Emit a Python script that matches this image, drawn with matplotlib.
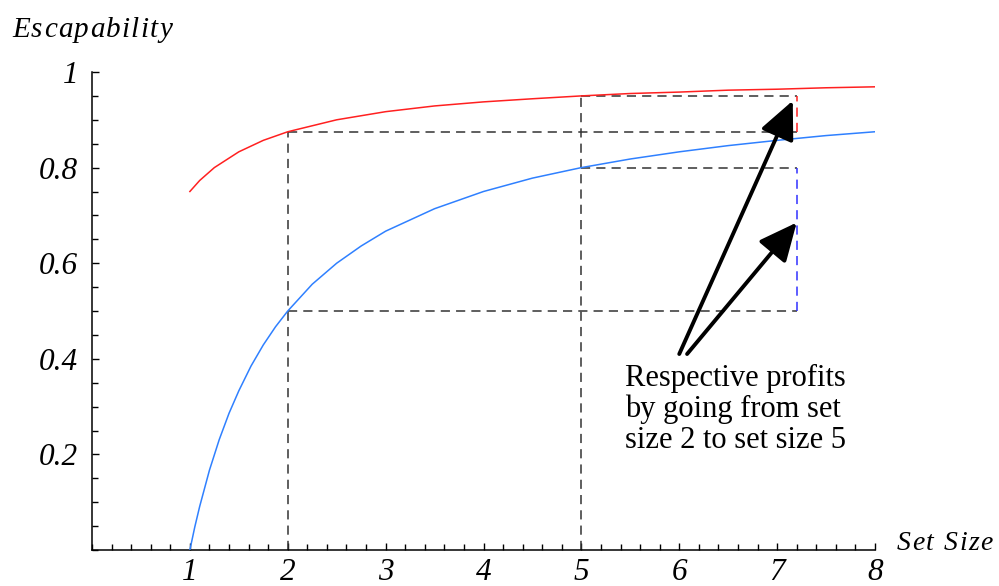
import matplotlib
matplotlib.use("Agg")
import matplotlib.pyplot as plt
from matplotlib.ticker import MultipleLocator, FixedLocator

# Data
red_x = [1, 1.1, 1.25, 1.5, 1.75, 2, 2.5, 3, 3.5, 4, 4.5, 5, 5.5, 6, 6.5, 7, 7.5, 8]
red_y = [0.75, 0.773, 0.80, 0.833, 0.857, 0.875, 0.90, 0.917, 0.929, 0.9375, 0.944,
         0.95, 0.955, 0.958, 0.962, 0.964, 0.967, 0.969]
blue_x = [1, 1.05, 1.1, 1.2, 1.3, 1.4, 1.5, 1.625, 1.75, 1.875, 2, 2.25, 2.5, 2.75, 3,
          3.5, 4, 4.5, 5, 5.5, 6, 6.5, 7, 7.5, 8]
blue_y = [0.0, 0.048, 0.091, 0.167, 0.231, 0.286, 0.333, 0.385, 0.429, 0.467, 0.5,
          0.556, 0.6, 0.636, 0.667, 0.714, 0.75, 0.778, 0.8, 0.818, 0.833, 0.846,
          0.857, 0.867, 0.875]

set_from, set_to = 2, 5
red_from, red_to = 0.875, 0.95
blue_from, blue_to = 0.5, 0.8
bracket_x = 7.2

x_ticks = [1, 2, 3, 4, 5, 6, 7, 8]
x_labels = ["1", "2", "3", "4", "5", "6", "7", "8"]
y_ticks = [0.2, 0.4, 0.6, 0.8, 1.0]
y_labels = ["0.2", "0.4", "0.6", "0.8", "1"]

y_title = "Escapability"
x_title = "Set Size"
note = "Respective profits\nby going from set\nsize 2 to set size 5"
arrow_tail = [(6.0, 0.41), (6.08, 0.41)]
arrow_heads = [(7.16, 0.94), (7.2, 0.685)]

W, H = 999, 586
fig = plt.figure(figsize=(W / 100, H / 100), dpi=100)
ax = fig.add_axes([92 / W, 1 - 550 / H, (875 - 92) / W, (550 - 72) / H])
ax.set_xlim(0, 8)
ax.set_ylim(0, 1)

serif = ["Liberation Serif", "DejaVu Serif"]

ax.plot(red_x, red_y, color="#ff2020", lw=1.1, zorder=3)
ax.plot(blue_x, blue_y, color="#2f80ff", lw=1.1, zorder=3)

dash = dict(color="#333333", lw=1.1, dashes=(6, 4), zorder=2)
ax.plot([set_from, set_from], [0, red_from], **dash)
ax.plot([set_to, set_to], [0, red_to], **dash)
ax.plot([set_from, bracket_x], [red_from, red_from], **dash)
ax.plot([set_to, bracket_x], [red_to, red_to], **dash)
ax.plot([set_from, bracket_x], [blue_from, blue_from], **dash)
ax.plot([set_to, bracket_x], [blue_to, blue_to], **dash)
ax.plot([bracket_x, bracket_x], [red_from, red_to], color="#ff2020", lw=1.1,
        dashes=(6, 4), zorder=2)
ax.plot([bracket_x, bracket_x], [blue_from, blue_to], color="#3030ff", lw=1.1,
        dashes=(6, 4), zorder=2)

for (tx, ty), (hx, hy) in zip(arrow_tail, arrow_heads):
    ax.annotate("", xy=(hx, hy), xytext=(tx, ty),
                arrowprops=dict(arrowstyle="-|>,head_length=1.3,head_width=0.6",
                                mutation_scale=18, lw=2.8, color="black",
                                shrinkA=0, shrinkB=0), zorder=4)

ax.text(5.45, 0.39, note, fontsize=22, family=serif, va="top", ha="left",
        linespacing=1.08, zorder=5)

for s in ["top", "right"]:
    ax.spines[s].set_visible(False)
ax.spines["left"].set_linewidth(1.1)
ax.spines["bottom"].set_linewidth(1.1)

ax.xaxis.set_major_locator(FixedLocator(x_ticks))
ax.set_xticklabels(x_labels)
ax.xaxis.set_minor_locator(MultipleLocator(0.2))
ax.yaxis.set_major_locator(FixedLocator(y_ticks))
ax.set_yticklabels(y_labels)
ax.yaxis.set_minor_locator(MultipleLocator(0.05))
ax.tick_params(which="both", direction="in", width=1.0, color="black")
ax.tick_params(which="major", length=5)
ax.tick_params(which="minor", length=4)
ax.tick_params(axis="x", which="major", pad=6)
ax.tick_params(axis="y", which="major", pad=10)
for lab in ax.get_xticklabels() + ax.get_yticklabels():
    lab.set_family(serif)
    lab.set_style("italic")
    lab.set_fontsize(22.5)


def spaced_text(x_px, y_px, s, size, total_w):
    """Draw italic text letter-spaced so that it spans total_w pixels."""
    renderer = fig.canvas.get_renderer()
    widths = []
    objs = []
    for ch in s:
        if ch == " ":
            widths.append(size * 100 / 72 * 0.25)
            objs.append(None)
            continue
        t = fig.text(0, 0, ch, family=serif, style="italic", fontsize=size,
                     ha="left", va="baseline")
        widths.append(t.get_window_extent(renderer).width)
        objs.append(t)
    gap = (total_w - sum(widths)) / max(len(s) - 1, 1)
    cx = x_px
    for w, t in zip(widths, objs):
        if t is not None:
            t.set_position((cx / W, 1 - y_px / H))
        cx += w + gap


spaced_text(12, 37, y_title, 21, 160)
spaced_text(897, 550, x_title, 20, 96)

fig.savefig("out.png", dpi=100)
